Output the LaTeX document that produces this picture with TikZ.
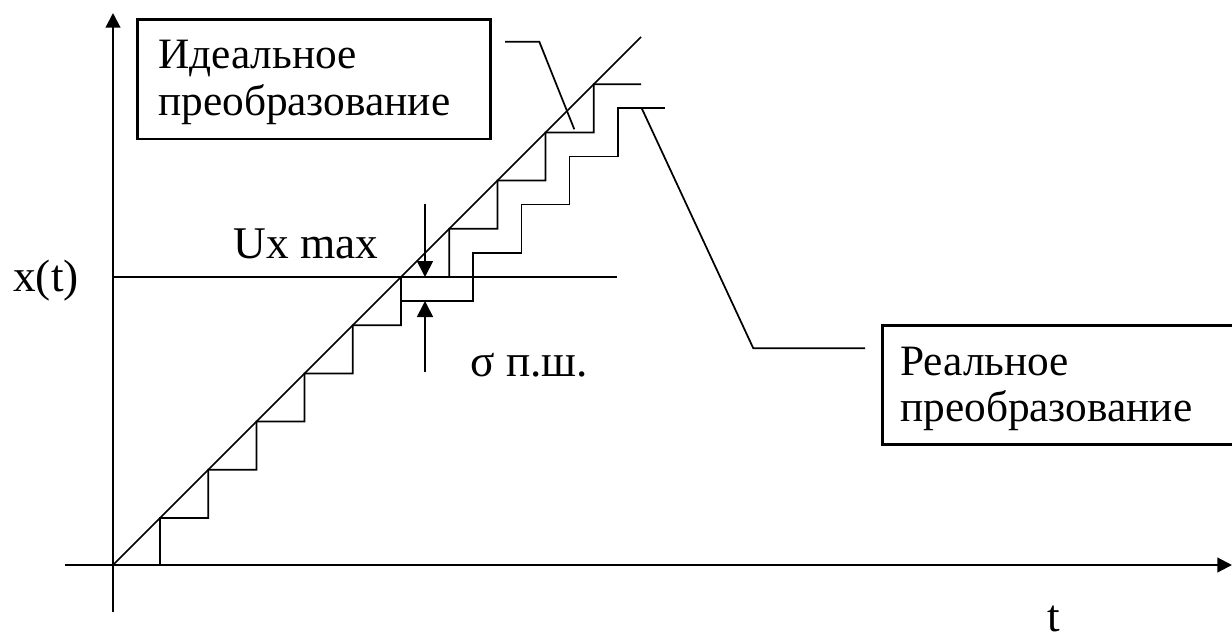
\documentclass[tikz,border=0pt]{standalone}
\usepackage{fontspec}
\setmainfont{Liberation Serif}
\usetikzlibrary{arrows.meta}
\begin{document}
\begin{tikzpicture}[x=0.75pt,y=-0.75pt,
  ln/.style={line width=1.3pt},
  axis/.style={line width=1.6pt,-{Triangle[length=11pt,width=11pt]}},
  dimarrow/.style={line width=1.3pt,-{Triangle[length=12pt,width=12pt]}},
  boxline/.style={draw,line width=2pt,inner sep=0pt,anchor=north west},
  boxtxt/.style={anchor=base west,inner sep=0pt,font=\fontsize{32.5}{38}\selectfont},
  lbl/.style={anchor=base west,inner sep=0pt,font=\fontsize{34}{40}\selectfont}]
\useasboundingbox (0,0) rectangle (1232,643);
\clip (0,0) rectangle (1232,643);
% axes
\coordinate (O) at (113,565);
\coordinate (xl) at (65,565);
\coordinate (xr) at (1232,565);
\coordinate (yb) at (113,612);
\coordinate (yt) at (113,13);
\draw[axis] (xl) -- (xr);
\draw[axis] (yb) -- (yt);
% ideal line
\coordinate (lend) at (641,37);
\draw[ln] (O) -- (lend);
% ideal staircase
\draw[ln] (160,565) \foreach \i in {0,...,8} { -- ({160+48.2*\i},{518-48.2*\i}) -- ({208.2+48.2*\i},{518-48.2*\i}) } -- (593.8,84.2) -- (641,84.2);
% real staircase
\draw[ln] (401,301) -- (473.2,301) -- (473.2,252.8) -- (521.4,252.8) -- (521.4,204.6)
  -- (569.6,204.6) -- (569.6,156.4) -- (617.8,156.4) -- (617.8,108.2) -- (665,108.2);
% Ux max level
\coordinate (ul) at (113,277);
\coordinate (ur) at (617,277);
\draw[ln] (ul) -- (ur);
% dimension arrows
\coordinate (a1s) at (425,204);
\coordinate (a1e) at (425,277);
\coordinate (a2s) at (425,372);
\coordinate (a2e) at (425,301);
\draw[dimarrow] (a1s) -- (a1e);
\draw[dimarrow] (a2s) -- (a2e);
% boxes
\node[boxline,minimum width=264.75pt,minimum height=89.5pt] (ideal) at (136,18.3) {};
\node[boxline,minimum width=300pt,minimum height=89.5pt] (real) at (881,324) {};
\node[boxtxt] (it1) at (158,68.3) {Идеальное};
\node[boxtxt] (it2) at (158,115) {преобразование};
\node[boxtxt] (rt1) at (900,375.7) {Реальное};
\node[boxtxt] (rt2) at (900,421.7) {преобразование};
% leaders
\coordinate (L1a) at (505,41.7);
\coordinate (L1b) at (539.3,41.7);
\coordinate (L1c) at (574.3,129.3);
\draw[ln] (L1a) -- (L1b) -- (L1c);
\coordinate (L2a) at (641.7,108.2);
\coordinate (L2b) at (753.3,348.3);
\coordinate (L2c) at (865,348.3);
\draw[ln] (L2a) -- (L2b) -- (L2c);
% labels
\node[lbl] (ux) at (233,258.3) {Ux max};
\node[lbl] (xt) at (13,291.7) {x(t)};
\node[lbl] (sig) at (470,376.7) {σ п.ш.};
\node[lbl] (tl) at (1047,631) {t};
\end{tikzpicture}
\end{document}
